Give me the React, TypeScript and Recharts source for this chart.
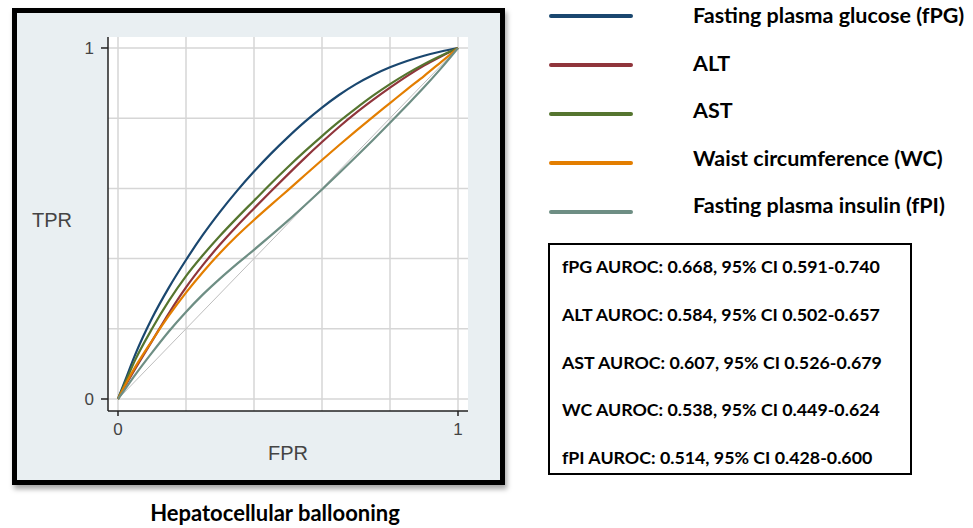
import React from 'react';
import { LineChart, Line, XAxis, YAxis, ReferenceLine, Legend } from 'recharts';

const fprValues = [0, 0.02, 0.05, 0.1, 0.15, 0.2, 0.25, 0.3, 0.35, 0.4, 0.45, 0.5, 0.55, 0.6, 0.65, 0.7, 0.75, 0.8, 0.85, 0.9, 0.95, 1];
const fpgTPR = [0, 0.05, 0.125, 0.23, 0.318, 0.396, 0.468, 0.533, 0.593, 0.648, 0.699, 0.746, 0.79, 0.83, 0.866, 0.897, 0.923, 0.945, 0.963, 0.978, 0.99, 1];
const altTPR = [0, 0.035, 0.085, 0.165, 0.245, 0.318, 0.382, 0.44, 0.493, 0.543, 0.592, 0.64, 0.687, 0.732, 0.775, 0.815, 0.852, 0.887, 0.92, 0.95, 0.976, 1];
const astTPR = [0, 0.044, 0.11, 0.2, 0.28, 0.35, 0.41, 0.465, 0.516, 0.565, 0.614, 0.661, 0.706, 0.749, 0.79, 0.828, 0.864, 0.897, 0.927, 0.954, 0.978, 1];
const wcTPR = [0, 0.038, 0.09, 0.166, 0.238, 0.303, 0.362, 0.416, 0.465, 0.51, 0.553, 0.595, 0.638, 0.681, 0.723, 0.764, 0.804, 0.843, 0.882, 0.92, 0.96, 1];
const fpiTPR = [0, 0.027, 0.068, 0.132, 0.193, 0.248, 0.298, 0.343, 0.385, 0.425, 0.466, 0.508, 0.552, 0.597, 0.643, 0.69, 0.738, 0.787, 0.837, 0.888, 0.942, 1];

const seriesKeys = ['fpg', 'alt', 'ast', 'wc', 'fpi'];
const seriesNames = [
  'Fasting plasma glucose (fPG)',
  'ALT',
  'AST',
  'Waist circumference (WC)',
  'Fasting plasma insulin (fPI)',
];
const seriesColors = ['#1a476f', '#90353b', '#55752f', '#e37e00', '#6e8e84'];
const seriesValues = [fpgTPR, altTPR, astTPR, wcTPR, fpiTPR];

const aurocLines = [
  'fPG AUROC: 0.668, 95% CI 0.591-0.740',
  'ALT AUROC: 0.584, 95% CI 0.502-0.657',
  'AST AUROC: 0.607, 95% CI 0.526-0.679',
  'WC AUROC: 0.538, 95% CI 0.449-0.624',
  'fPI AUROC: 0.514, 95% CI 0.428-0.600',
];

const gridValues = [0, 0.2, 0.4, 0.6, 0.8, 1];
const axisTicks = [0, 1];
const xDomain = [-0.0294, 1.0294];
const yDomain = [-0.0342, 1.0313];
const diagonal = [{ x: 0, y: 0 }, { x: 1, y: 1 }];

const xLabel = 'FPR';
const yLabel = 'TPR';
const title = 'Hepatocellular ballooning';

const data = fprValues.map((f, i) => {
  const row: Record<string, number> = { fpr: f };
  seriesKeys.forEach((k, j) => {
    row[k] = seriesValues[j][i];
  });
  return row;
});

const boldFont = 'Lato, "Open Sans", sans-serif';
const axisFont = '"Liberation Sans", Arial, sans-serif';

const renderLegend = (props: any) => {
  const payload = [...(props.payload || [])].sort(
    (a: any, b: any) => seriesNames.indexOf(a.value) - seriesNames.indexOf(b.value)
  );
  return (
    <div style={{ position: 'relative', width: 420, height: 240 }}>
      {payload.map((entry: any, i: number) => (
        <React.Fragment key={i}>
          <div
            style={{
              position: 'absolute',
              left: 0,
              top: 14 + i * 49,
              width: 84,
              height: 4,
              borderRadius: 2,
              background: entry.color,
            }}
          />
          <div
            style={{
              position: 'absolute',
              left: 144,
              top: 15 + i * 47.5 - 14,
              lineHeight: '28px',
              fontFamily: boldFont,
              fontWeight: 700,
              fontSize: 21.5,
              color: '#000',
              whiteSpace: 'nowrap',
            }}
          >
            {entry.value}
          </div>
        </React.Fragment>
      ))}
    </div>
  );
};

export default function App() {
  return (
    <div style={{ position: 'absolute', left: 0, top: 0, width: 973, height: 528, background: '#fff', overflow: 'hidden' }}>
      <div
        style={{
          position: 'absolute',
          left: 12,
          top: 8,
          width: 493,
          height: 477,
          boxSizing: 'border-box',
          border: '5px solid #000',
          background: '#e9eff2',
          boxShadow: '2px 4px 5px rgba(0,0,0,0.35)',
        }}
      />
      <div style={{ position: 'absolute', left: 108, top: 37, width: 360, height: 374, background: '#fff' }} />
      <div style={{ position: 'absolute', left: 0, top: 0 }}>
        <LineChart width={973} height={528} data={data} margin={{ top: 37, right: 505, bottom: 87, left: 68 }}>
          {gridValues.map((v) => (
            <ReferenceLine key={'gx' + v} x={v} stroke="#d6d6d6" strokeWidth={1.5} ifOverflow="visible" />
          ))}
          {gridValues.map((v) => (
            <ReferenceLine key={'gy' + v} y={v} stroke="#d6d6d6" strokeWidth={1.5} ifOverflow="visible" />
          ))}
          <ReferenceLine segment={diagonal} stroke="#bdbdbd" strokeWidth={1} />
          <XAxis
            type="number"
            dataKey="fpr"
            domain={xDomain}
            ticks={axisTicks}
            allowDataOverflow
            height={30}
            tickSize={5}
            tickMargin={7}
            axisLine={{ stroke: '#222', strokeWidth: 1.5 }}
            tickLine={{ stroke: '#222', strokeWidth: 1.5 }}
            tick={{ fill: '#444', fontSize: 17, fontFamily: axisFont }}
          />
          <YAxis
            type="number"
            domain={yDomain}
            ticks={axisTicks}
            allowDataOverflow
            width={40}
            tickSize={7}
            tickMargin={7}
            axisLine={{ stroke: '#222', strokeWidth: 1.5 }}
            tickLine={{ stroke: '#222', strokeWidth: 1.5 }}
            tick={{ fill: '#444', fontSize: 17, fontFamily: axisFont }}
          />
          {seriesKeys.map((k, j) => (
            <Line
              key={k}
              type="monotone"
              dataKey={k}
              name={seriesNames[j]}
              stroke={seriesColors[j]}
              strokeWidth={2.2}
              dot={false}
              activeDot={false}
              isAnimationActive={false}
            />
          ))}
          <Legend
            layout="vertical"
            align="center"
            verticalAlign="middle"
            content={renderLegend}
            wrapperStyle={{ position: 'absolute', left: 549, top: 0, width: 420, height: 240 }}
          />
        </LineChart>
      </div>
      <div
        style={{
          position: 'absolute',
          left: 32,
          top: 207,
          fontFamily: axisFont,
          fontSize: 20,
          color: '#444',
          lineHeight: '26px',
        }}
      >
        {yLabel}
      </div>
      <div
        style={{
          position: 'absolute',
          left: 188,
          width: 200,
          top: 440,
          textAlign: 'center',
          fontFamily: axisFont,
          fontSize: 20,
          color: '#444',
          lineHeight: '26px',
        }}
      >
        {xLabel}
      </div>
      <div
        style={{
          position: 'absolute',
          left: 75,
          width: 400,
          top: 499,
          textAlign: 'center',
          fontFamily: boldFont,
          fontWeight: 700,
          fontSize: 22,
          color: '#000',
          lineHeight: '28px',
        }}
      >
        {title}
      </div>
      <div
        style={{
          position: 'absolute',
          left: 548,
          top: 243,
          width: 364,
          height: 232,
          boxSizing: 'border-box',
          border: '2px solid #000',
          background: '#fff',
        }}
      >
        {aurocLines.map((t, i) => (
          <div
            key={i}
            style={{
              position: 'absolute',
              left: 12,
              top: 23 + i * 47.8 - 2 - 12,
              lineHeight: '24px',
              fontFamily: boldFont,
              fontWeight: 700,
              fontSize: 17.8,
              color: '#000',
              whiteSpace: 'nowrap',
            }}
          >
            {t}
          </div>
        ))}
      </div>
    </div>
  );
}
